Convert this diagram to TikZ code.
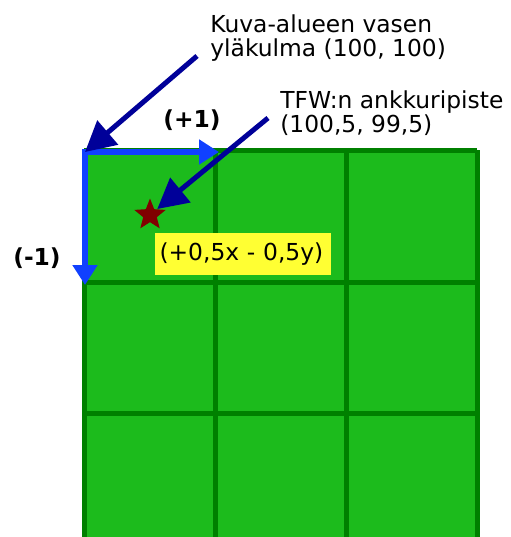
\documentclass[tikz,border=0pt]{standalone}
\usepackage{fontspec}
\setmainfont{DejaVu Sans}
\usetikzlibrary{arrows.meta,shapes.geometric}

\definecolor{cellgreen}{RGB}{28,187,28}
\definecolor{gridgreen}{RGB}{0,128,0}
\definecolor{axisblue}{RGB}{16,64,255}
\definecolor{pointerblue}{RGB}{0,0,153}
\definecolor{starred}{RGB}{128,0,0}
\definecolor{labelyellow}{RGB}{255,255,51}

\tikzset{
  axis/.style={axisblue, line width=0.12cm, line cap=rect, -{Triangle[length=0.4cm,width=0.48cm]}},
  pointer/.style={pointerblue, line width=0.1cm, -{Triangle[length=0.6cm,width=0.62cm]}},
  lbl/.style={inner sep=0pt, font=\fontsize{13.3}{13.9}\selectfont, align=left, anchor=north west},
  unit/.style={inner sep=0pt, font=\bfseries\fontsize{13.3}{16}\selectfont},
}

\begin{document}
\begin{tikzpicture}[x=0.02cm, y=-0.02cm]
    \useasboundingbox (0,0) rectangle (510,537);
    \clip (0,0) rectangle (510,537);
    % cells
    \fill[cellgreen] (84,150) rectangle (477,545);
    \foreach \x in {84,215,346,477}
        \draw[gridgreen, line width=0.1cm] (\x,150) -- (\x,545);
    \foreach \y in {150,282,413}
        \draw[gridgreen, line width=0.1cm] (84,\y) -- (477,\y);
    % axes
    \coordinate (origin) at (85,152);
    \coordinate (xtip) at (219,152);
    \coordinate (ytip) at (85,285);
    \draw[axis] (origin) -- (xtip);
    \draw[axis] (origin) -- (ytip);
    \node[unit] (plusone) at (192,120) {(+1)};
    \node[unit] (minusone) at (37,258) {(-1)};
    % anchor point
    \node[star, star points=5, star point ratio=2.3, fill=starred, minimum size=0.66cm, inner sep=0pt] (anchorpt) at (150,215) {};
    \node[fill=labelyellow, inner xsep=0.1cm, inner ysep=0pt, text width=3.34cm, minimum height=0.86cm, align=left, font=\fontsize{13.3}{16}\selectfont] (offset) at (243,254) {(+0,5x - 0,5y)};
    % labels
    \node[lbl] (cornerlbl) at (210,14) {Kuva-alueen vasen\\yläkulma (100, 100)};
    \node[lbl] (tfwlbl) at (280,90) {TFW:n ankkuripiste\\(100,5, 99,5)};
    \coordinate (cornerfrom) at (197,56);
    \coordinate (tfwfrom) at (268,118);
    \draw[pointer] (cornerfrom) -- (origin);
    \draw[pointer] (tfwfrom) -- (anchorpt);
\end{tikzpicture}
\end{document}
